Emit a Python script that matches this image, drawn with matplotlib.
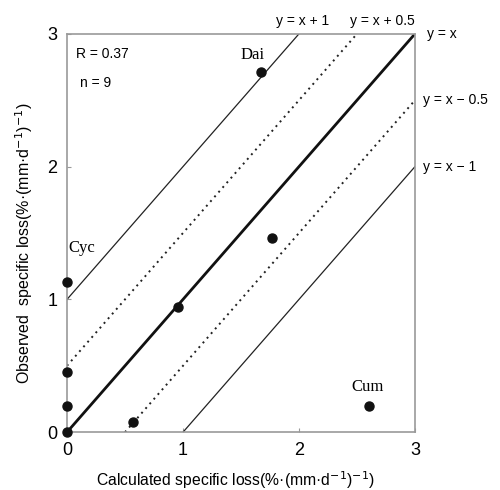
import numpy as np
import matplotlib.pyplot as plt

plt.rcParams["font.family"] = ["Liberation Sans", "DejaVu Sans"]

# observed vs calculated specific loss
calc = [0.0, 0.0, 0.0, 0.0, 0.57, 0.96, 1.67, 1.77, 2.60]
obs = [1.13, 0.45, 0.20, 0.0, 0.08, 0.94, 2.71, 1.46, 0.20]
names = ["Cyc", "", "", "", "", "", "Dai", "", "Cum"]

offsets = [1, 0.5, 0, -0.5, -1]
line_labels = ["y = x + 1", "y = x + 0.5", "y = x", "y = x \u2212 0.5", "y = x \u2212 1"]
ticks = [0, 1, 2, 3]

fig = plt.figure(figsize=(5, 4.9), dpi=100)
ax = fig.add_axes([0.134, 0.118, 0.696, 0.813])

for off in offsets:
    xs = np.array([max(0, -off), min(3, 3 - off)])
    if off == 0:
        ax.plot(xs, xs + off, color="#111111", lw=2.0, zorder=2)
    elif abs(off) == 0.5:
        ax.plot(xs, xs + off, color="#222222", lw=1.4, ls=(0, (1, 2.2)), zorder=2)
    else:
        ax.plot(xs, xs + off, color="#222222", lw=0.9, zorder=2)

ax.plot(calc, obs, "o", color="#111111", ms=6.5, clip_on=False, zorder=4)

# point names (serif, like the original)
label_pos = {"Cyc": (0.13, 0.26), "Dai": (-0.07, 0.13), "Cum": (-0.01, 0.14)}
for x, y, n in zip(calc, obs, names):
    if n:
        dx, dy = label_pos[n]
        ax.text(x + dx, y + dy, n, family="Liberation Serif", fontsize=12,
                ha="center", va="center")

# labels for reference lines, outside the plot box
ax.text(2.03, 3.1, line_labels[0], fontsize=10, ha="center", va="center")
ax.text(2.72, 3.1, line_labels[1], fontsize=10, ha="center", va="center")
ax.text(3.1, 3.0, line_labels[2], fontsize=10, ha="left", va="center")
ax.text(3.07, 2.5, line_labels[3], fontsize=10, ha="left", va="center")
ax.text(3.07, 2.0, line_labels[4], fontsize=10, ha="left", va="center")

ax.text(0.08, 2.85, "R = 0.37", fontsize=10, ha="left", va="center")
ax.text(0.11, 2.63, "n = 9", fontsize=10, ha="left", va="center")

ax.set_xlim(0, 3)
ax.set_ylim(0, 3)
ax.set_xticks(ticks)
ax.set_yticks(ticks)
ax.tick_params(direction="in", length=3, color="#999999", labelsize=13, pad=7)
for s in ax.spines.values():
    s.set_color("#999999")
    s.set_linewidth(1.2)

fig.text(235 / 500, 1 - 480 / 490, "Calculated specific loss(%\u00b7(mm\u00b7d$^{-1}$)$^{-1}$)",
         fontsize=11.3, ha="center", va="center")
fig.text(24 / 500, 1 - 243 / 490, "Observed  specific loss(%\u00b7(mm\u00b7d$^{-1}$)$^{-1}$)",
         fontsize=11.5, ha="center", va="center", rotation=90)

fig.savefig("out.png")
